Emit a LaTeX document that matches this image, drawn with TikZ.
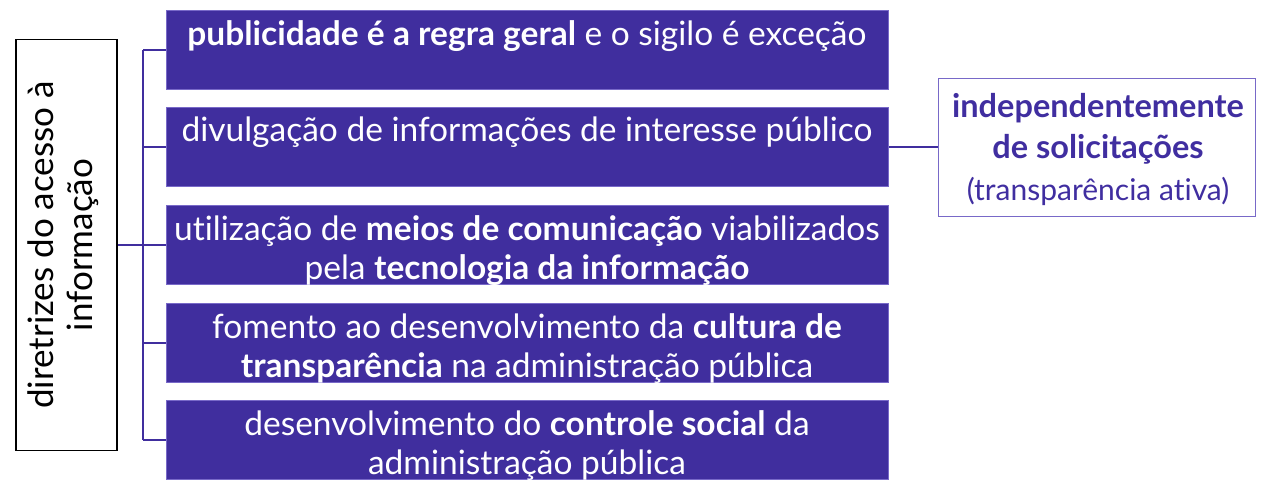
\documentclass[tikz,border=0pt]{standalone}
\usepackage{fontspec}
\setmainfont{Lato}[Ligatures=NoCommon]
\definecolor{pur}{RGB}{64,46,158}
\definecolor{purtext}{RGB}{64,46,160}
\definecolor{purborder}{RGB}{120,105,200}
\newcommand{\tstrut}{\rule{0pt}{28pt}}
\begin{document}
\begin{tikzpicture}[x=1pt,y=-1pt,
  itembox/.style={fill=pur, draw=purborder, line width=0.8pt, minimum width=722pt, minimum height=79pt, anchor=north west, inner sep=0pt},
  itemtext/.style={text=white, font=\fontsize{33.5}{39.5}\selectfont, align=center, anchor=north, inner sep=0pt},
  conn/.style={draw=pur, line width=2pt},
  ]
\useasboundingbox (0,0) rectangle (1266,492);
% left box
\node[draw=black, line width=1.5pt, minimum width=101pt, minimum height=411pt, inner sep=0pt] (root) at (66.5,245) {};
\node[rotate=90, align=center, font=\fontsize{35}{39}\selectfont, inner sep=0pt] (roottext) at (63,245) {diretrizes do acesso à\\informação};
% item boxes
\node[itembox] (b1) at (166,10) {};
\node[itembox] (b2) at (166,107) {};
\node[itembox] (b3) at (166,205) {};
\node[itembox] (b4) at (166,303) {};
\node[itembox] (b5) at (166,400) {};
\node[itemtext] (t1) at (527,17) {\tstrut\textbf{publicidade é a regra geral} e o sigilo é exceção};
\node[itemtext] (t2) at (527,113) {\tstrut divulgação de informações de interesse público};
\node[itemtext] (t3) at (527,212) {\tstrut utilização de \textbf{meios de comunicação} viabilizados\\pela \textbf{tecnologia da informação}};
\node[itemtext] (t4) at (527,310) {\tstrut fomento ao desenvolvimento da \textbf{cultura de}\\\textbf{transparência} na administração pública};
\node[itemtext] (t5) at (527,407) {\tstrut desenvolvimento do \textbf{controle social} da\\administração pública};
% right box
\node[draw=purborder, line width=1.2pt, minimum width=317pt, minimum height=138pt, anchor=north west, inner sep=0pt] (r) at (938,78) {};
\node[align=center, text=purtext, inner sep=0pt, anchor=north, font=\fontsize{32.5}{41.5}\selectfont] (rtext) at (1098,89) {\textbf{\rule{0pt}{28pt}independentemente}\\\textbf{de solicitações}\\\fontsize{30}{39}\selectfont(transparência ativa)};
% connectors
\coordinate (bx) at (143,245);
\draw[conn] (root.east |- bx) -- (bx);
\draw[conn] (bx |- b1.west) -- (bx |- b5.west);
\foreach \b in {b1,b2,b3,b4,b5}{
  \draw[conn] (bx |- \b.west) -- (\b.west);
}
\draw[conn] (b2.east) -- (r.west |- b2.east);
\end{tikzpicture}
\end{document}
